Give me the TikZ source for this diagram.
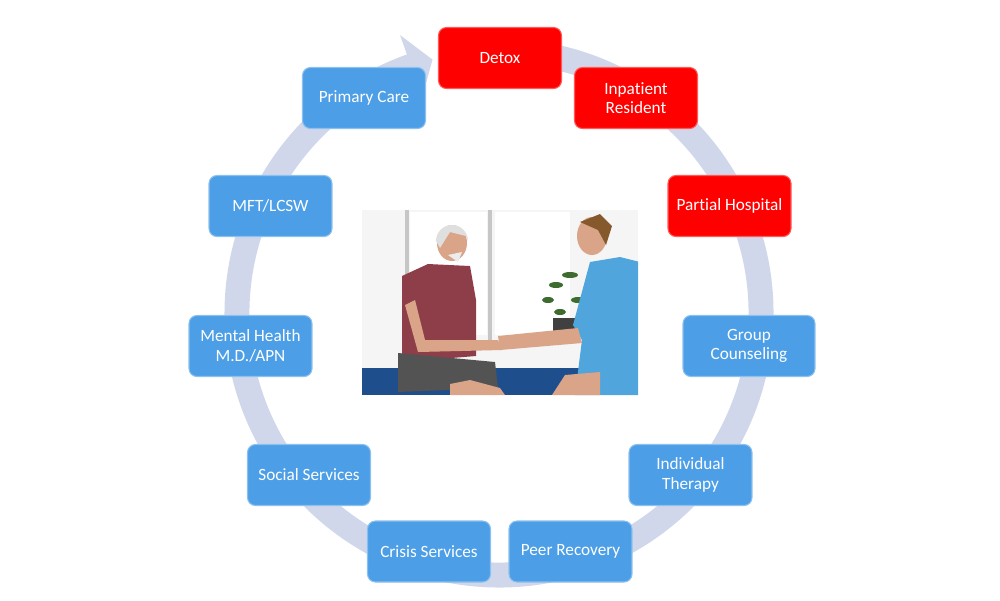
\documentclass[tikz,border=0pt]{standalone}
\usepackage{fontspec}
\setmainfont{Carlito}[Ligatures=NoCommon]
\definecolor{ringblue}{HTML}{D0D7EA}
\definecolor{boxblue}{HTML}{4C9EE6}
\definecolor{boxred}{HTML}{FF0000}
\definecolor{shirtred}{HTML}{8E3E48}
\definecolor{scrubblue}{HTML}{4FA5DC}
\definecolor{skin}{HTML}{D9A488}
\definecolor{couch}{HTML}{1F4E8C}
\definecolor{leaf}{HTML}{3E6B2E}
\begin{document}
\begin{tikzpicture}[x=0.02cm,y=-0.02cm,inner sep=0pt,outer sep=0pt,
svcbox/.style={draw=boxblue!65!white,fill=boxblue,line width=0.6pt,rounded corners=4.5pt,minimum width=2.46cm,minimum height=1.22cm,align=center,text=white,font=\fontsize{9.8}{11}\selectfont},
acutebox/.style={svcbox,draw=boxred!65!white,fill=boxred}]
\useasboundingbox (0,0) rectangle (1000,600);
% ring arrow
\fill[ringblue,shift={(499,313)}] (-85:274.5) arc[start angle=-85,end angle=250.4,radius=274.5]
  -- (250.4:295) -- (255.3:262) -- (250.4:229) -- (250.4:249.5)
  arc[start angle=250.4,end angle=-85,radius=249.5] -- cycle;
% photo
\begin{scope}
\clip (362,210) rectangle (638,395);
\fill[gray!8] (362,210) rectangle (638,395);
\fill[white] (410,212) rectangle (487,335);
\fill[white] (495,212) rectangle (570,335);
\fill[gray!45] (405,210) rectangle (409,335);
\fill[gray!45] (488,210) rectangle (492,340);
\fill[couch] (362,368) rectangle (590,395);
\fill[leaf] (548,300) ellipse (6 and 3) (556,285) ellipse (7 and 3) (570,275) ellipse (8 and 3)
  (560,312) ellipse (6 and 3) (578,300) ellipse (7 and 3);
\fill[black!75] (553,318) rectangle (575,336);
% older man
\fill[shirtred] (402,276) -- (428,264) -- (470,266) -- (476,300) -- (476,356) -- (402,362) -- cycle;
\fill[gray!65!black] (398,353) -- (495,362) -- (498,388) -- (398,392) -- cycle;
\fill[skin] (450,384) -- (470,380) -- (500,388) -- (505,395) -- (450,395) -- cycle;
\fill[skin] (415,300) -- (425,340) -- (498,340) -- (502,350) -- (418,352) -- (405,305) -- cycle;
\fill[skin] (452,243) ellipse (15 and 18);
\fill[gray!25] (436,241) arc[start angle=180,end angle=360,radius=16] -- (466,236) -- (450,232) -- (440,248) -- cycle;
\fill[white!85!gray] (448,255) -- (462,252) -- (458,262) -- cycle;
% young man
\fill[scrubblue] (590,262) -- (620,257) -- (640,262) -- (640,395) -- (575,395) -- (582,340) -- (573,325) -- cycle;
\fill[skin] (498,336) -- (578,328) -- (582,343) -- (500,350) -- cycle;
\fill[skin] (552,395) -- (565,375) -- (600,372) -- (600,395) -- cycle;
\fill[skin] (592,236) ellipse (15 and 19);
\fill[brown!70!black] (580,222) -- (600,214) -- (612,226) -- (606,245) -- (598,230) -- cycle;
\end{scope}
% stages
\draw (500,58) node[acutebox] (detox) {Detox};
\draw (636,98) node[acutebox] (inpat) {Inpatient\\Resident};
\draw (729.5,206) node[acutebox] (partial) {Partial Hospital};
\draw (749,346) node[svcbox,minimum width=2.64cm] (group) {Group\\Counseling};
\draw (690.5,475) node[svcbox] (indiv) {Individual\\Therapy};
\draw (570.5,551.5) node[svcbox] (peer) {Peer Recovery};
\draw (429,551.5) node[svcbox] (crisis) {Crisis Services};
\draw (309,475) node[svcbox] (social) {Social Services};
\draw (250.5,346) node[svcbox] (mental) {Mental Health\\M.D./APN};
\draw (270.5,206) node[svcbox] (mft) {MFT/LCSW};
\draw (364,98) node[svcbox] (primary) {Primary Care};
\end{tikzpicture}
\end{document}
